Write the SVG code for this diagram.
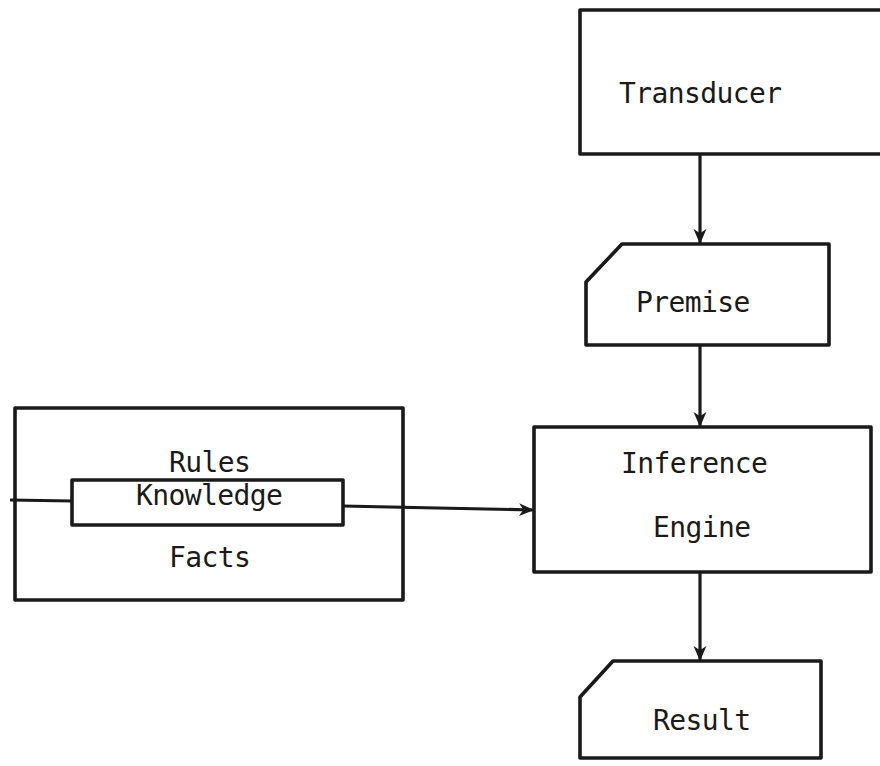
<svg xmlns="http://www.w3.org/2000/svg" width="880" height="766" viewBox="0 0 880 766">
  <style>
    .box { fill: #ffffff; stroke: #1a1a1a; stroke-width: 3.6; stroke-linejoin: round; }
    .wire { fill: none; stroke: #1a1a1a; stroke-width: 3.2; }
    .label { font-family: "DejaVu Sans Mono", "Liberation Mono", monospace; font-size: 28px; letter-spacing: -0.6px; fill: #1a1a1a; }
  </style>
  <defs>
    <marker id="head" viewBox="0 0 14 14" refX="13" refY="7" markerWidth="15" markerHeight="15" markerUnits="userSpaceOnUse" orient="auto">
      <path d="M0,1 L14,7 L0,13 L4,7 Z" fill="#1a1a1a"/>
    </marker>
  </defs>
  <rect width="880" height="766" fill="#ffffff"/>

  <g id="transducer">
    <path class="box" d="M580,10 L884,10 L884,154 L580,154 Z"/>
    <text class="label" x="619" y="103">Transducer</text>
  </g>

  <g id="premise">
    <path class="box" d="M622,244 L829,244 L829,345 L586,345 L586,282 Z"/>
    <text class="label" x="636" y="312">Premise</text>
  </g>

  <g id="inference-engine">
    <rect class="box" x="534" y="427" width="337" height="145"/>
    <text class="label" x="621" y="473">Inference</text>
    <text class="label" x="653" y="537">Engine</text>
  </g>

  <g id="result">
    <path class="box" d="M613,661 L821,661 L821,758 L580,758 L580,697 Z"/>
    <text class="label" x="653" y="730">Result</text>
  </g>

  <g id="knowledge-base">
    <rect class="box" x="15" y="408" width="388" height="192"/>
    <text class="label" x="169" y="472">Rules</text>
    <text class="label" x="169" y="567">Facts</text>
  </g>

  <g id="connectors">
    <line class="wire" x1="700" y1="154" x2="700" y2="243" marker-end="url(#head)"/>
    <line class="wire" x1="700" y1="345" x2="700" y2="426" marker-end="url(#head)"/>
    <line class="wire" x1="700" y1="572" x2="700" y2="660" marker-end="url(#head)"/>
    <line class="wire" x1="10" y1="500" x2="72" y2="501"/>
    <line class="wire" x1="343" y1="506" x2="533" y2="510" marker-end="url(#head)"/>
  </g>

  <g id="knowledge">
    <rect class="box" x="72" y="480" width="271" height="45"/>
    <text class="label" x="136" y="505">Knowledge</text>
  </g>
</svg>
